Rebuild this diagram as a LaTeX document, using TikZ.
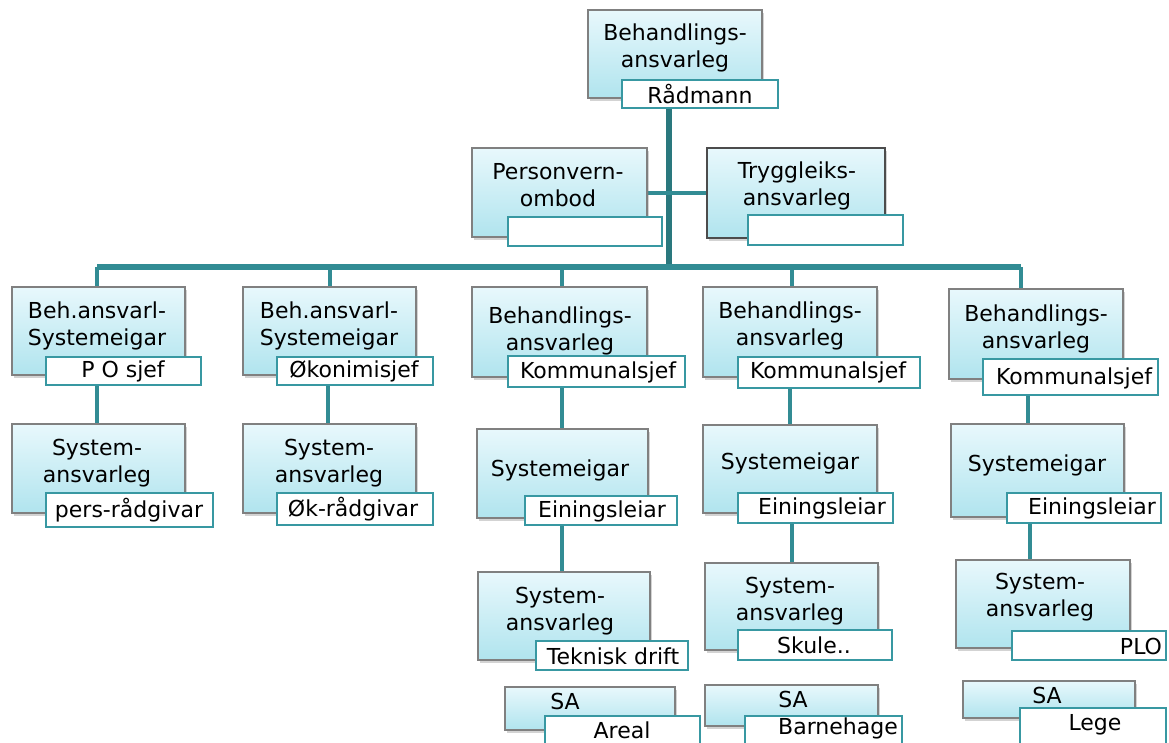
\documentclass[tikz,border=0pt]{standalone}
\usepackage{fontspec}
\setmainfont{DejaVu Sans}
\usetikzlibrary{fit,shadows,backgrounds}
\definecolor{teal1}{RGB}{50,140,148}
\definecolor{teal2}{RGB}{42,120,126}
\definecolor{labbd}{RGB}{56,152,162}
\definecolor{boxtop}{RGB}{232,248,252}
\definecolor{boxbot}{RGB}{176,228,238}
\definecolor{boxbd}{RGB}{128,128,128}
\begin{document}
\begin{tikzpicture}[x=0.75pt,y=-0.75pt,
  boxst/.style={draw=boxbd, line width=0.9pt, top color=boxtop, bottom color=boxbot, inner sep=0pt,
    drop shadow={opacity=0.35, shadow xshift=1.5pt, shadow yshift=-2pt}},
  labst/.style={draw=labbd, line width=1.6pt, fill=white, inner sep=0pt},
  txt/.style={font=\fontsize{16.5}{20.3}\selectfont, align=center, inner sep=0pt, text=black},
  conn/.style={draw=teal1, line width=3pt},
  trunk/.style={draw=teal2, line width=5pt}]
\useasboundingbox (0,0) rectangle (1169,742);
\clip (0,0) rectangle (1169,742);

% ---------- top ----------
\node[boxst, fit={(588,10) (762,98)}] (top) {};
\node[txt] (topt) at (675,48) {Behandlings-\\ansvarleg};
\node[labst, fit={(622,80) (778,108)}] (topl) {};
\node[txt] (toplt) at (700,94) {Rådmann};

\node[boxst, fit={(472,148) (647,237)}] (pv) {};
\node[txt] (pvt) at (558,185) {Personvern-\\ombod};
\node[labst, fit={(508,217) (662,246)}] (pvl) {};

\node[boxst, draw=black!70, line width=1.4pt, fit={(707,148) (885,238)}] (ty) {};
\node[txt] (tyt) at (797,186) {Tryggleiks-\\ansvarleg};
\node[labst, fit={(748,215) (903,245)}] (tyl) {};

% ---------- row 1 ----------
\node[boxst, fit={(12,287) (185,375)}] (b1) {};
\node[txt] (b1t) at (97,326) {Beh.ansvarl-\\Systemeigar};
\node[labst, fit={(46,357) (201,385)}] (b1l) {};
\node[txt] (b1lt) at (123,371) {P O sjef};

\node[boxst, fit={(243,287) (416,375)}] (b2) {};
\node[txt] (b2t) at (329,326) {Beh.ansvarl-\\Systemeigar};
\node[labst, fit={(277,357) (433,385)}] (b2l) {};
\node[txt] (b2lt) at (354,371) {Økonimisjef};

\node[boxst, fit={(472,287) (647,377)}] (b3) {};
\node[txt] (b3t) at (560,331) {Behandlings-\\ansvarleg};
\node[labst, fit={(508,356) (685,387)}] (b3l) {};
\node[txt] (b3lt) at (598,372) {Kommunalsjef};

\node[boxst, fit={(703,287) (877,377)}] (b4) {};
\node[txt] (b4t) at (790,326) {Behandlings-\\ansvarleg};
\node[labst, fit={(738,357) (920,388)}] (b4l) {};
\node[txt] (b4lt) at (828,372) {Kommunalsjef};

\node[boxst, fit={(949,289) (1123,379)}] (b5) {};
\node[txt] (b5t) at (1036,329) {Behandlings-\\ansvarleg};
\node[labst, fit={(983,359) (1158,395)}] (b5l) {};
\node[txt] (b5lt) at (1074,378) {Kommunalsjef};

% ---------- row 2 ----------
\node[boxst, fit={(12,424) (185,513)}] (s1) {};
\node[txt] (s1t) at (97,463) {System-\\ansvarleg};
\node[labst, fit={(46,493) (213,527)}] (s1l) {};
\node[txt] (s1lt) at (129,510) {pers-rådgivar};

\node[boxst, fit={(243,424) (416,513)}] (s2) {};
\node[txt] (s2t) at (329,463) {System-\\ansvarleg};
\node[labst, fit={(277,493) (433,525)}] (s2l) {};
\node[txt] (s2lt) at (353,509) {Øk-rådgivar};

\node[boxst, fit={(477,429) (648,518)}] (e3) {};
\node[txt] (e3t) at (560,470) {Systemeigar};
\node[labst, fit={(525,496) (677,525)}] (e3l) {};
\node[txt] (e3lt) at (602,511) {Einingsleiar};

\node[boxst, fit={(703,425) (877,513)}] (e4) {};
\node[txt] (e4t) at (790,463) {Systemeigar};
\node[labst, fit={(738,493) (893,523)}] (e4l) {};
\node[txt] (e4lt) at (822,508) {Einingsleiar};

\node[boxst, fit={(951,424) (1124,517)}] (e5) {};
\node[txt] (e5t) at (1037,465) {Systemeigar};
\node[labst, fit={(1007,493) (1161,523)}] (e5l) {};
\node[txt] (e5lt) at (1092,508) {Einingsleiar};

% ---------- row 3 ----------
\node[boxst, fit={(478,572) (650,660)}] (t3) {};
\node[txt] (t3t) at (560,611) {System-\\ansvarleg};
\node[labst, fit={(536,641) (688,670)}] (t3l) {};
\node[txt] (t3lt) at (613,656) {Teknisk drift};

\node[boxst, fit={(705,563) (878,650)}] (t4) {};
\node[txt] (t4t) at (790,601) {System-\\ansvarleg};
\node[labst, fit={(738,630) (892,660)}] (t4l) {};
\node[txt] (t4lt) at (814,645) {Skule..};

\node[boxst, fit={(956,560) (1130,648)}] (t5) {};
\node[txt] (t5t) at (1040,597) {System-\\ansvarleg};
\node[labst, fit={(1012,631) (1166,660)}] (t5l) {};
\node[txt] (t5lt) at (1141,646) {PLO};

% ---------- row 4 ----------
\node[boxst, fit={(505,687) (675,730)}] (a3) {};
\node[txt] (a3t) at (565,701) {SA};
\node[labst, fit={(545,716) (700,752)}] (a3l) {};
\node[txt] (a3lt) at (622,730) {Areal};

\node[boxst, fit={(705,685) (878,726)}] (a4) {};
\node[txt] (a4t) at (793,699) {SA};
\node[labst, fit={(745,716) (902,752)}] (a4l) {};
\node[txt] (a4lt) at (838,728) {Barnehage};

\node[boxst, fit={(963,681) (1135,718)}] (a5) {};
\node[txt] (a5t) at (1047,695) {SA};
\node[labst, fit={(1020,708) (1166,752)}] (a5l) {};
\node[txt] (a5lt) at (1095,725) {Lege};

% ---------- connectors ----------
\coordinate (j) at (669,267);
\coordinate (jl) at (97,267);
\coordinate (jr) at (1021,267);
\begin{scope}[on background layer]
  \draw[trunk] (669,0 |- topl.south) -- (j);
  \draw[conn] (pv.east) -- (669,0 |- pv.east);
  \draw[conn] (669,0 |- ty.west) -- (ty.west);
  \draw[conn, line width=4pt] (jl) -- (jr);
  \draw[conn] (jl) -- (97,0 |- b1.north);
  \draw[conn] (330,267) -- (330,0 |- b2.north);
  \draw[conn] (562,267) -- (562,0 |- b3.north);
  \draw[conn] (792,267) -- (792,0 |- b4.north);
  \draw[conn] (jr) -- (1021,0 |- b5.north);
  % row1 -> row2
  \draw[conn] (97,0 |- b1l.south) -- (97,0 |- s1.north);
  \draw[conn] (328,0 |- b2l.south) -- (328,0 |- s2.north);
  \draw[conn] (562,0 |- b3l.south) -- (562,0 |- e3.north);
  \draw[conn] (790,0 |- b4l.south) -- (790,0 |- e4.north);
  \draw[conn] (1028,0 |- b5l.south) -- (1028,0 |- e5.north);
  % row2 -> row3
  \draw[conn] (562,0 |- e3l.south) -- (562,0 |- t3.north);
  \draw[conn] (792,0 |- e4l.south) -- (792,0 |- t4.north);
  \draw[conn] (1030,0 |- e5l.south) -- (1030,0 |- t5.north);
\end{scope}
\end{tikzpicture}
\end{document}
